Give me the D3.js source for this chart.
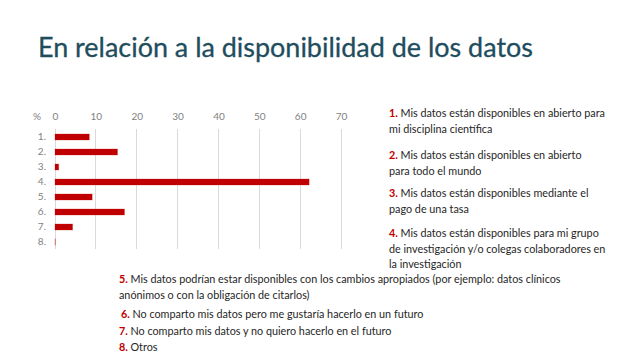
<!DOCTYPE html>
<html><head><meta charset="utf-8">
<script src="https://cdn.jsdelivr.net/npm/d3@7"></script>
<style>
html,body{margin:0;padding:0;background:#fff;}
svg{display:block;}
</style></head>
<body>
<svg id="chart" width="638" height="359"></svg>
<script>
const title = "En relación a la disponibilidad de los datos";
const categories = ["1.", "2.", "3.", "4.", "5.", "6.", "7.", "8."];
const values = [8.4, 15.3, 0.9, 62.2, 9.1, 17.0, 4.3, 0.15];
const xTicks = [0, 10, 20, 30, 40, 50, 60, 70];
const unitLabel = "%";
const rightLegend = [
  ["1.", ["Mis datos están disponibles en abierto para", "mi disciplina científica"]],
  ["2.", ["Mis datos están disponibles en abierto", "para todo el mundo"]],
  ["3.", ["Mis datos están disponibles mediante el", "pago de una tasa"]],
  ["4.", ["Mis datos están disponibles para mi grupo", "de investigación y/o colegas colaboradores en", "la investigación"]]
];
const bottomLegend = [
  ["5.", ["Mis datos podrían estar disponibles con los cambios apropiados (por ejemplo: datos clínicos", "anónimos o con la obligación de citarlos)"]],
  ["6.", ["No comparto mis datos pero me gustaría hacerlo en un futuro"]],
  ["7.", ["No comparto mis datos y no quiero hacerlo en el futuro"]],
  ["8.", ["Otros"]]
];

const svg = d3.select("#chart");
const FONT = "Lato, 'Open Sans', sans-serif";
const RED = "#c00000";

// Title
const t = svg.append("text")
  .attr("x", 38).attr("y", 57)
  .attr("font-family", FONT).attr("font-size", 24)
  .attr("fill", "#1f4d5e")
  .attr("stroke", "#1f4d5e").attr("stroke-width", 0.3)
  .text(title);
const tw = t.node().getComputedTextLength();
t.attr("font-size", 24 * 495 / tw);

// Chart
const x = d3.scaleLinear().domain([0, 70]).range([55, 341]);
const y = d3.scaleBand().domain(categories).range([129.5, 249.5]).paddingInner(0.6).paddingOuter(0.3);

svg.append("g").selectAll("line").data(xTicks).join("line")
  .attr("x1", d => x(d)).attr("x2", d => x(d))
  .attr("y1", 129).attr("y2", 249)
  .attr("stroke", "#d9d9d9").attr("stroke-width", 1)
  .attr("shape-rendering", "crispEdges");

const xAxis = svg.append("g").attr("transform", "translate(0,120)")
  .call(d3.axisTop(x).tickValues(xTicks).tickSize(0).tickPadding(0));
xAxis.select(".domain").remove();
xAxis.selectAll("text").attr("font-family", FONT).attr("font-size", 10).attr("fill", "#7f7f7f");

svg.append("text").attr("x", 37).attr("y", 120).attr("text-anchor", "middle")
  .attr("font-family", FONT).attr("font-size", 10).attr("fill", "#7f7f7f").text(unitLabel);

const yAxis = svg.append("g").attr("transform", "translate(46,0)")
  .call(d3.axisLeft(y).tickSize(0).tickPadding(0));
yAxis.select(".domain").remove();
yAxis.selectAll("text").attr("font-family", FONT).attr("font-size", 10).attr("fill", "#7f7f7f");

svg.append("g").selectAll("rect").data(values).join("rect")
  .attr("x", x(0))
  .attr("y", (d, i) => y(categories[i]))
  .attr("width", d => x(d) - x(0))
  .attr("height", y.bandwidth())
  .attr("fill", RED)
  .attr("fill-opacity", d => d < 0.5 ? 0.3 : 1)
  .attr("stroke", "rgba(192,0,0,0.25)").attr("stroke-width", 1);

function drawItem(px, py, num, lines, fs, lh) {
  lines.forEach((ln, i) => {
    const tx = svg.append("text").attr("x", px).attr("y", py + i * lh)
      .attr("font-family", FONT).attr("font-size", fs).attr("fill", "#262626");
    if (i === 0) {
      tx.append("tspan").attr("fill", RED).attr("font-weight", "bold").text(num + " ");
    }
    tx.append("tspan").text(ln);
  });
}
const FS = 10.8, LH = 15.5;
const rightY = [117, 159, 197, 237];
rightLegend.forEach((d, i) => drawItem(389, rightY[i], d[0], d[1], FS, LH));
const bottomPos = [[119, 283], [121, 318], [119, 335], [119, 351]];
bottomLegend.forEach((d, i) => drawItem(bottomPos[i][0], bottomPos[i][1], d[0], d[1], FS, LH));
</script>
</body></html>
